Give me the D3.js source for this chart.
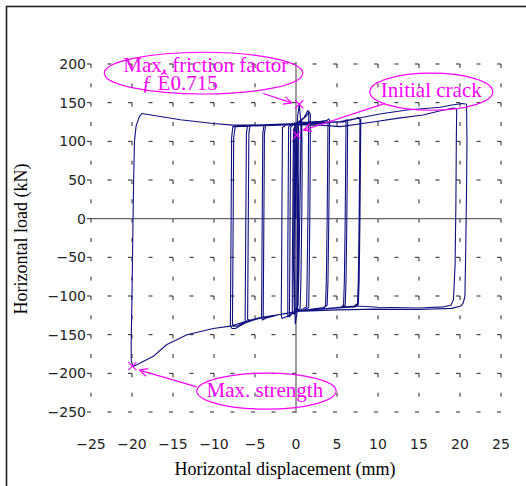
<!DOCTYPE html>
<html>
<head>
<meta charset="utf-8">
<script src="https://cdn.jsdelivr.net/npm/d3@7"></script>
<style>
body { margin: 0; background: #fff; }
svg { display: block; }
</style>
</head>
<body>
<div id="chart"></div>
<script>
// tick values
var xTicks = [-25, -20, -15, -10, -5, 0, 5, 10, 15, 20, 25];
var yTicks = [200, 150, 100, 50, 0, -50, -100, -150, -200, -250];

// hysteresis record, [displacement mm, load kN]
var loopsNearZero = [
    [0, 0], [0.05, 55], [0.1, 107], [0.2, 132], [0.4, 148], [0.55, 130], [0.6, 124],
    [0.55, 60], [0.45, 0], [0.35, -70], [0.25, -112], [0, -118], [-0.3, -121], [-0.45, -123],
    [-0.45, -60], [-0.4, 0], [-0.35, 70], [-0.3, 115], [-0.1, 121], [0.3, 124], [0.7, 127],
    [0.75, 60], [0.7, 0], [0.6, -80], [0.5, -116], [0, -120], [-0.6, -124], [-0.8, -127],
    [-0.75, -50], [-0.7, 40], [-0.65, 118], [-0.3, 122], [0.4, 126], [1.0, 131], [1.3, 137], [1.45, 140], [1.55, 136],
    [1.5, 60], [1.45, 0], [1.35, -80], [1.3, -114], [0.8, -117], [0, -120], [-0.8, -125], [-1.0, -127],
    [-1.0, -50], [-0.95, 40], [-0.9, 119], [-0.4, 122], [0.5, 126], [1.2, 132], [1.6, 138], [1.75, 135],
    [1.72, 60], [1.68, 0], [1.6, -80], [1.55, -115], [1.0, -118], [0, -121], [-1.0, -126], [-1.7, -129], [-1.8, -125],
    [-1.75, -50], [-1.7, 40], [-1.65, 118], [-1.2, 121], [0, 124],
    [0.3, 125], [0.35, 60], [0.3, 0], [0.25, -80], [0.2, -118], [-0.2, -124], [-0.3, -60], [-0.25, 0], [-0.2, 80], [-0.15, 121],
    [0.15, 124], [0.2, 40], [0.15, -60], [0.1, -124], [-0.1, -136], [-0.15, -60], [-0.1, 40], [0, 124]
];
var loops4mm = [
    [1.5, 125], [3, 126], [3.7, 127], [3.9, 125],
    [3.85, 60], [3.8, 0], [3.7, -80], [3.6, -113], [3.2, -116], [2, -117], [0, -120], [-2, -124], [-3.8, -129], [-4.1, -131], [-4.2, -128],
    [-4.15, -50], [-4.1, 30], [-4.05, 110], [-3.9, 121], [-2, 122], [0, 123], [2, 124.5], [3.6, 126], [4.0, 129], [4.1, 127],
    [4.05, 60], [4.0, 0], [3.9, -80], [3.8, -112], [3.4, -115], [2, -117], [0, -120], [-2, -124], [-3.6, -128], [-3.9, -130], [-4.0, -127],
    [-3.95, -50], [-3.9, 30], [-3.85, 110], [-3.7, 121], [-2, 122], [0, 123]
];
var loops6mm = [
    [2, 124], [4, 124.5], [5.6, 125], [6.0, 127], [6.1, 124],
    [6.05, 60], [6.0, 0], [5.9, -80], [5.8, -112], [5.4, -115], [3, -117], [0, -120], [-2, -124], [-4.5, -129], [-5.8, -133], [-6.1, -134], [-6.2, -130],
    [-6.15, -50], [-6.1, 30], [-6.05, 110], [-5.9, 121], [-4, 121.5], [0, 123], [3, 124], [5.8, 125], [6.2, 128], [6.3, 125],
    [6.25, 60], [6.2, 0], [6.1, -80], [6.0, -112], [5.6, -115], [3, -117], [0, -120], [-2, -124], [-4.5, -129], [-5.6, -132], [-5.9, -130],
    [-5.85, -50], [-5.8, 30], [-5.75, 110], [-5.6, 121], [-3, 121.5], [0, 122.5]
];
var loops8mm = [
    [3, 124], [5.4, 125.5], [7.2, 129], [7.6, 131], [7.8, 129],
    [7.75, 60], [7.7, 0], [7.6, -80], [7.5, -110], [7.1, -113], [4, -116], [0, -120], [-2, -124], [-4.4, -128], [-6.2, -135], [-7.4, -142], [-7.8, -142], [-8.0, -139],
    [-7.95, -60], [-7.9, 20], [-7.85, 105], [-7.7, 119], [-5, 120], [0, 121.5], [3, 123], [6, 126], [7.6, 130], [7.9, 128],
    [7.85, 60], [7.8, 0], [7.7, -80], [7.6, -111], [7.2, -114], [4, -116], [0, -120], [-2, -124], [-4.4, -128], [-6.2, -134], [-7.3, -139], [-7.7, -139], [-7.75, -135],
    [-7.7, -60], [-7.65, 20], [-7.6, 105], [-7.4, 119], [-4, 120.5], [0, 121.5]
];
var loops20mm = [
    [3, 121], [5.4, 119], [9.4, 125], [12.5, 130], [15.5, 134], [17.6, 139.5], [19.2, 143], [19.6, 142],
    [19.55, 100], [19.5, 20], [19.4, -60], [19.2, -105], [18.9, -112], [18, -114], [15, -115.5], [10, -114.5], [7.4, -113], [4, -116], [0.5, -119], [0, -121],
    [-2, -124], [-4.4, -128], [-6.2, -133], [-8, -139], [-10.1, -142], [-13.3, -150], [-15.8, -163], [-17.4, -178], [-19.4, -189], [-19.9, -191],
    [-20.1, -183], [-20.1, -160], [-20, -100], [-19.9, -20], [-19.8, 50], [-19.7, 100], [-19.5, 120], [-19.1, 132], [-18.8, 136],
    [-14.1, 128], [-10.1, 123], [-7.7, 121], [-4, 121], [0, 122], [3, 123], [5.4, 125.4], [10.2, 135.4], [13.5, 140.6], [17.6, 144], [19.0, 147], [20.3, 149], [20.8, 148],
    [20.85, 100], [20.8, 40], [20.7, -40], [20.6, -100], [20.4, -109], [20.1, -113], [19, -116], [15, -117.5], [10, -117], [5, -118], [0, -120]
];

// annotations, positions in data units
var notes = [
    {lines: ["Max. friction factor"], at: [-11.0, 189.4], anchor: "middle",
     ellipse: {c: [-11.28, 188.2], rx: 12.1, ry: 27}, arrow: [[-4.0, 161.9], [-0.52, 149.7]], mark: [0.4, 148]},
    {lines: ["\u0192 \u00ca0.715"], at: [-18.8, 166.2], anchor: "start"},
    {lines: ["Initial crack"], at: [16.5, 157.1], anchor: "middle",
     ellipse: {c: [16.5, 164.2], rx: 7.5, ry: 24}, arrow: [[10.85, 149], [0.9, 114.4]], mark: [0.1, 108]},
    {lines: ["Max. strength"], at: [-3.8, -230.8], anchor: "middle",
     ellipse: {c: [-3.6, -223], rx: 8.5, ry: 23.3}, arrow: [[-12.1, -217.5], [-19.1, -195.9]], mark: [-19.95, -190.7]}
];

var width = 526, height = 486;
var magenta = "#ff00ff";

var svg = d3.select("#chart").append("svg")
    .attr("width", width)
    .attr("height", height);

svg.append("rect")
    .attr("x", 6.5).attr("y", 6.5)
    .attr("width", width).attr("height", height)
    .attr("fill", "none").attr("stroke", "#222").attr("stroke-width", 1.6);

var x = d3.scaleLinear().domain([-25, 25]).range([91, 501]);
var y = d3.scaleLinear().domain([-250, 200]).range([412, 64]);

// dashed grid
var stepX = x(2.5) - x(0);
var stepY = y(0) - y(25);
svg.append("g").selectAll("line")
    .data(xTicks.filter(d => d !== 0))
    .enter().append("line")
    .attr("x1", d => x(d)).attr("x2", d => x(d))
    .attr("y1", y(200)).attr("y2", y(-250))
    .attr("stroke", "#222").attr("stroke-width", 1)
    .attr("stroke-dasharray", "4," + (stepY - 4));
svg.append("g").selectAll("line")
    .data(yTicks.filter(d => d !== 0))
    .enter().append("line")
    .attr("x1", x(-25)).attr("x2", x(25))
    .attr("y1", d => y(d)).attr("y2", d => y(d))
    .attr("stroke", "#222").attr("stroke-width", 1)
    .attr("stroke-dasharray", "4," + (stepX - 4))
    .attr("stroke-dashoffset", 4);

// zero axes
svg.append("line")
    .attr("x1", x(-25)).attr("x2", x(25))
    .attr("y1", y(0)).attr("y2", y(0))
    .attr("stroke", "#666").attr("stroke-width", 1.3);
svg.append("line")
    .attr("x1", x(0)).attr("x2", x(0))
    .attr("y1", y(200) - 2).attr("y2", y(-250) + 1)
    .attr("stroke", "#666").attr("stroke-width", 1.3);

// y ticks + labels
var yAxis = svg.append("g");
yAxis.selectAll("line")
    .data(yTicks)
    .enter().append("line")
    .attr("x1", x(-25) - 4).attr("x2", x(-25))
    .attr("y1", d => y(d)).attr("y2", d => y(d))
    .attr("stroke", "#222");
yAxis.selectAll("text")
    .data(yTicks)
    .enter().append("text")
    .attr("x", x(-25) - 5)
    .attr("y", d => y(d))
    .attr("dy", "0.36em")
    .attr("text-anchor", "end")
    .style("font", "14px 'DejaVu Sans'")
    .attr("fill", "#222")
    .text(d => d3.format("")(d).replace("-", "\u2212"));

svg.append("g").selectAll("text")
    .data(xTicks)
    .enter().append("text")
    .attr("x", d => x(d))
    .attr("y", 449)
    .attr("text-anchor", "middle")
    .style("font", "14px 'DejaVu Sans'")
    .attr("fill", "#222")
    .text(d => d3.format("")(d).replace("-", "\u2212"));

// axis titles
svg.append("text")
    .attr("transform", "translate(285,475)")
    .attr("text-anchor", "middle")
    .style("font", "18px 'Liberation Serif'")
    .text("Horizontal displacement (mm)");
svg.append("text")
    .attr("transform", "translate(27,239)rotate(-90)")
    .attr("text-anchor", "middle")
    .style("font", "18px 'Liberation Serif'")
    .text("Horizontal load (kN)");

// hysteresis curve
var hysteresis = [].concat(loopsNearZero, loops4mm, loops6mm, loops8mm, loops20mm);
var line = d3.line()
    .x(d => x(d[0]))
    .y(d => y(d[1]));
svg.append("path")
    .datum(hysteresis)
    .attr("d", line)
    .attr("fill", "none")
    .attr("stroke", "#101080")
    .attr("stroke-width", 1.1)
    .attr("stroke-linejoin", "round");

// annotations
var ann = svg.append("g");
notes.forEach(n => {
    if (n.ellipse) {
        ann.append("ellipse")
            .attr("cx", x(n.ellipse.c[0])).attr("cy", y(n.ellipse.c[1]))
            .attr("rx", x(n.ellipse.rx) - x(0)).attr("ry", y(0) - y(n.ellipse.ry))
            .attr("fill", "none").attr("stroke", magenta).attr("stroke-width", 1.2);
    }
    ann.append("text")
        .attr("x", x(n.at[0])).attr("y", y(n.at[1]))
        .attr("text-anchor", n.anchor)
        .style("font", "21px 'Liberation Serif'")
        .attr("fill", magenta)
        .text(n.lines[0]);
    if (n.arrow) {
        var x0 = x(n.arrow[0][0]), y0 = y(n.arrow[0][1]);
        var x1 = x(n.arrow[1][0]), y1 = y(n.arrow[1][1]);
        ann.append("line")
            .attr("x1", x0).attr("y1", y0).attr("x2", x1).attr("y2", y1)
            .attr("stroke", magenta).attr("stroke-width", 1.2);
        var a = Math.atan2(y0 - y1, x0 - x1);
        [0.45, -0.45].forEach(s => {
            ann.append("line")
                .attr("x1", x1).attr("y1", y1)
                .attr("x2", x1 + 9 * Math.cos(a + s)).attr("y2", y1 + 9 * Math.sin(a + s))
                .attr("stroke", magenta).attr("stroke-width", 1.2);
        });
    }
    if (n.mark) {
        var mx = x(n.mark[0]), my = y(n.mark[1]);
        [[-1, -1], [1, -1]].forEach(s => {
            ann.append("line")
                .attr("x1", mx - 4 * s[0]).attr("y1", my - 4 * s[1])
                .attr("x2", mx + 4 * s[0]).attr("y2", my + 4 * s[1])
                .attr("stroke", magenta).attr("stroke-width", 1.2);
        });
    }
});
</script>
</body>
</html>
